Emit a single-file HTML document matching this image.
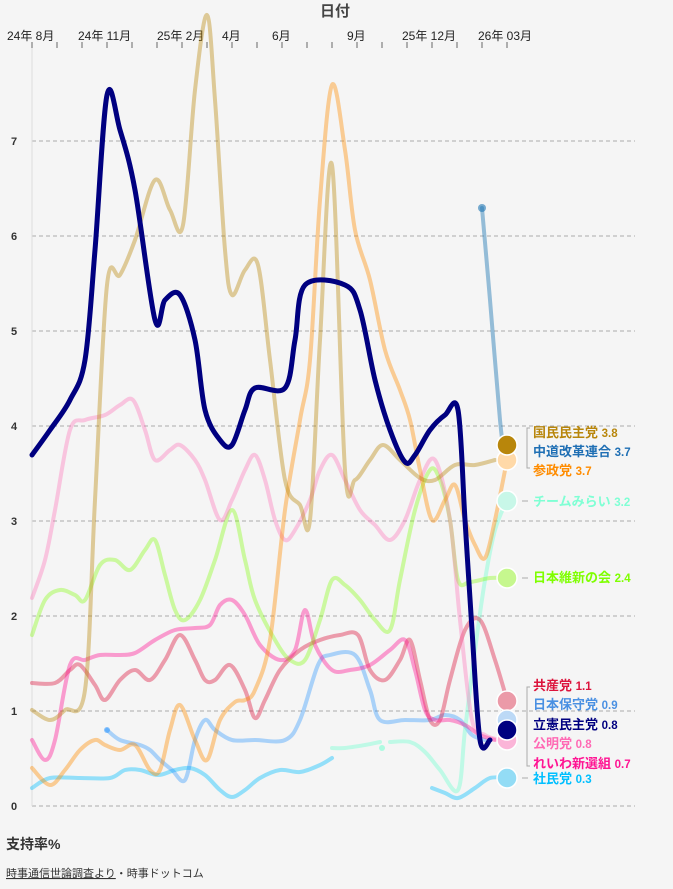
<!DOCTYPE html>
<html><head><meta charset="utf-8"><style>
body{margin:0;background:#f5f5f5;width:673px;height:889px;overflow:hidden;font-family:"Liberation Sans","Noto Sans CJK JP",sans-serif;}
svg{display:block}
text{font-family:"Liberation Sans","Noto Sans CJK JP",sans-serif}
</style></head><body>
<svg id="s" width="673" height="889" xmlns="http://www.w3.org/2000/svg">
<rect width="673" height="889" fill="#f5f5f5"/>
<text x="335" y="16" font-size="15" font-weight="bold" fill="#444" text-anchor="middle">日付</text>
<g font-size="12" fill="#222">
<text x="7" y="40">24年 8月</text><text x="78" y="40">24年 11月</text><text x="157" y="40">25年 2月</text>
<text x="222" y="40">4月</text><text x="272" y="40">6月</text><text x="347" y="40">9月</text>
<text x="402" y="40">25年 12月</text><text x="478" y="40">26年 03月</text>
</g>
<g id="ticks" stroke="#666" stroke-width="1"></g>
<g id="grid" stroke="#aaa" stroke-dasharray="4,3" stroke-width="1"></g>
<g font-size="11" fill="#333" font-weight="bold">
<text x="11" y="810">0</text><text x="11" y="715">1</text><text x="11" y="620">2</text><text x="11" y="525">3</text>
<text x="11" y="430">4</text><text x="11" y="335">5</text><text x="11" y="240">6</text><text x="11" y="145">7</text>
</g>
<line x1="32" y1="48" x2="32" y2="806" stroke="#ddd"/>
<g id="lines" fill="none" stroke-linecap="round" stroke-linejoin="round"></g>
<g id="dots"></g>
<g stroke="#aaa" fill="none" stroke-width="1">
<path d="M530,428 H527 V468 H530"/><path d="M530,687 H527 V766 H530"/>
<line x1="522" y1="501" x2="528" y2="501"/><line x1="522" y1="578" x2="528" y2="578"/><line x1="522" y1="778" x2="528" y2="778"/>
</g>
<g font-size="13" font-weight="bold">
<text x="533" y="437" fill="#B8860B">国民民主党 <tspan font-size="11.5">3.8</tspan></text>
<text x="533" y="456" fill="#1f6fb4">中道改革連合 <tspan font-size="11.5">3.7</tspan></text>
<text x="533" y="475" fill="#FF8C00">参政党 <tspan font-size="11.5">3.7</tspan></text>
<text x="533" y="506" fill="#7fffd4">チームみらい <tspan font-size="11.5">3.2</tspan></text>
<text x="533" y="582" fill="#7fff00">日本維新の会 <tspan font-size="11.5">2.4</tspan></text>
<text x="533" y="690" fill="#dc143c">共産党 <tspan font-size="11.5">1.1</tspan></text>
<text x="533" y="709" fill="#4a90e2">日本保守党 <tspan font-size="11.5">0.9</tspan></text>
<text x="533" y="729" fill="#000080">立憲民主党 <tspan font-size="11.5">0.8</tspan></text>
<text x="533" y="748" fill="#ff69b4">公明党 <tspan font-size="11.5">0.8</tspan></text>
<text x="533" y="768" fill="#ff1493">れいわ新選組 <tspan font-size="11.5">0.7</tspan></text>
<text x="533" y="783" fill="#00bfff">社民党 <tspan font-size="11.5">0.3</tspan></text>
</g>
<text x="6" y="849" font-size="14" font-weight="bold" fill="#333">支持率%</text>
<text x="6" y="877" font-size="11" fill="#333"><tspan text-decoration="underline">時事通信世論調査より</tspan>・時事ドットコム</text>
</svg>
<script>
var NS="http://www.w3.org/2000/svg";
function el(p,t,a){var e=document.createElementNS(NS,t);for(var k in a)e.setAttribute(k,a[k]);p.appendChild(e);return e;}
var tk=document.getElementById('ticks');for(var i=0;i<20;i++){var x=32+25*i;el(tk,'line',{x1:x,y1:42,x2:x,y2:48});}
var g=document.getElementById('grid');for(var v=0;v<=7;v++){var y=806-95*v;el(g,'line',{x1:32,y1:y,x2:635,y2:y});}
function path(p){var d="M"+p[0][0]+","+p[0][1];for(var i=0;i<p.length-1;i++){var p0=p[i-1]||p[i],p1=p[i],p2=p[i+1],p3=p[i+2]||p2;
var c1=[p1[0]+(p2[0]-p0[0])/6,p1[1]+(p2[1]-p0[1])/6],c2=[p2[0]-(p3[0]-p1[0])/6,p2[1]-(p3[1]-p1[1])/6];
d+=" C"+c1+" "+c2+" "+p2;}return d;}
function P(s){return s.trim().split(/\s+/).map(function(q){return q.split(',').map(Number);});}
var L=document.getElementById('lines');
var S=[
["#00bfff",0.4,4,"32,788 50,778 80,778 110,778 125,770 140,770 158,775 175,770 190,768 205,775 220,790 232,797 245,790 260,778 280,770 300,772 320,765 332,758"],
["#00bfff",0.4,4,"432,788 445,793 458,798 475,788 490,778 507,778"],
["#1E90FF",0.35,4,"107,730 120,740 140,745 150,750 160,760 172,770 185,780 195,740 205,720 215,730 232,740 255,740 285,740 300,720 318,665 330,655 355,655 370,690 380,720 405,720 430,720 445,715 460,720 472,735 485,740"],
["#7FFFD4",0.45,4,"332,748 345,748 365,745 380,742"],
["#7FFFD4",0.45,4,"390,742 410,742 425,752 440,770 458,790 465,730 475,650 485,580 495,530 507,500"],
["#DC143C",0.4,4,"32,683 55,683 70,670 80,665 95,685 105,700 120,680 135,670 150,680 165,660 180,635 195,660 205,680 215,680 230,665 245,690 255,718 265,700 280,670 300,650 320,640 340,635 358,635 370,670 385,680 400,660 410,640 420,680 430,720 440,720 450,680 465,630 480,620 495,660 507,700"],
["#FF1493",0.4,4,"32,740 45,760 55,740 70,665 85,660 100,655 120,655 135,653 155,640 175,630 195,628 210,625 220,605 232,600 245,615 260,645 280,660 295,650 305,610 315,645 332,670 350,670 370,665 390,650 405,640 415,670 425,710 435,720 450,720 465,725 480,735 495,740"],
["#7FFF00",0.35,4,"32,635 45,600 60,590 75,595 85,600 100,565 115,560 130,570 145,550 155,540 165,575 175,610 185,620 200,600 215,560 232,510 245,560 255,600 275,640 290,660 305,660 320,620 332,580 345,585 360,600 375,620 390,630 400,580 415,510 430,470 440,480 450,520 458,580 470,582 490,578 507,578"],
["#FF69B4",0.35,4,"32,598 45,560 55,510 70,430 85,420 105,415 120,405 133,400 145,430 155,460 170,450 180,445 195,460 205,480 220,520 232,500 245,470 255,455 265,480 275,520 285,540 295,530 310,500 320,470 332,455 345,480 360,510 375,525 390,540 405,520 420,480 435,460 450,520 460,620 472,720 485,735 500,740"],
["#FF8C00",0.4,4,"32,768 50,785 65,770 80,750 95,740 105,745 120,750 135,745 150,770 160,770 170,730 180,705 195,740 207,760 220,720 235,702 245,700 255,690 270,640 285,510 300,420 310,360 320,200 332,85 345,150 355,230 370,280 385,350 400,390 410,420 420,470 432,520 445,500 455,485 465,520 475,545 485,558 495,520 507,460"],
["#B8860B",0.4,4,"32,710 50,720 65,710 85,690 95,500 107,285 120,275 135,240 155,180 170,210 183,225 195,90 207,15 215,100 225,250 232,295 245,270 258,265 270,360 285,480 300,505 310,520 320,340 332,165 345,470 355,480 370,460 383,445 400,460 420,478 435,480 455,465 475,465 495,460"],
["#1f77b4",0.45,4,"482,208 490,300 500,420 505,460"],
["#000080",1,5,"32,455 50,430 70,400 85,360 95,250 107,95 120,130 135,190 155,320 165,300 180,295 195,340 205,410 220,440 232,445 245,410 255,388 285,388 295,340 305,285 345,285 360,310 375,380 390,430 405,462 415,455 430,430 445,415 458,410 465,520 472,630 480,740 490,740"]
];
S.forEach(function(s){el(L,'path',{d:path(P(s[3])),stroke:s[0],'stroke-opacity':s[1],'stroke-width':s[2]});});
var D=document.getElementById('dots');
[[107,730,3,"#1E90FF",.5],[382,748,3,"#7FFFD4",.6],[482,208,4,"#1f77b4",.6],
[507,460,10,"#ffd9a8",1],[507,445,10,"#B8860B",1],[507,501,10,"#c8f7e8",1],[507,578,10,"#c6f78e",1],[507,701,10,"#eb9aa8",1],
[507,740,10,"#fbb5d8",1],[507,720,10,"#bcd9f6",1],[507,730,10,"#000080",1],[507,778,10,"#93dcf5",1]].forEach(function(c){
el(D,'circle',{cx:c[0],cy:c[1],r:c[2],fill:c[3],'fill-opacity':c[4],stroke:'#fff','stroke-width':c[2]>5?1.5:0});});
</script>
</body></html>
